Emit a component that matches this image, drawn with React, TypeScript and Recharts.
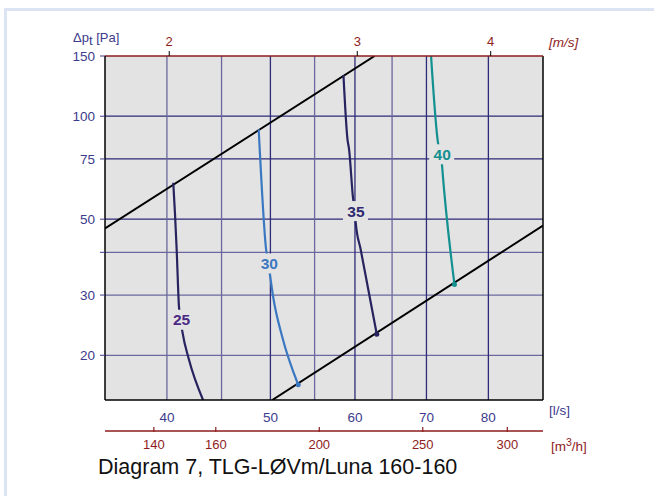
import React from "react";
import {
  LineChart,
  Line,
  XAxis,
  YAxis,
  CartesianGrid,
  ReferenceLine,
} from "recharts";

// ---- data (flow q in l/s, pressure p in Pa) ----
const FLOW_DOMAIN = [35, 90];
const PRESSURE_DOMAIN = [14.8, 150];
const FLOW_TICKS = [40, 50, 60, 70, 80];
const FLOW_GRID = [40, 45, 50, 55, 60, 65, 70, 80];
const FLOW_GRID_MAJOR = [50, 60, 70, 80];
const PRESSURE_TICKS = [20, 30, 40, 50, 75, 100, 150];
const PRESSURE_TICK_LABELS = ["20", "30", "", "50", "75", "100", "150"];
const PRESSURE_GRID = [20, 30, 40, 50, 75, 100];
const PRESSURE_GRID_MAJOR = [50, 75, 100];
const VELOCITY_TICKS = [2, 3, 4];
const VELOCITY_FACTOR = 20.1; // l/s per m/s
const M3H_TICKS = [140, 160, 200, 250, 300];
const M3H_FACTOR = 3.6;

const upperLimit = [
  { q: 35, p: 47 },
  { q: 62.6, p: 150 },
];
const lowerLimit = [
  { q: 50.2, p: 14.8 },
  { q: 90, p: 47.9 },
];
const curve25 = [
  { q: 40.55, p: 63.9 },
  { q: 40.7, p: 52 },
  { q: 40.85, p: 40.7 },
  { q: 41.05, p: 27.8 },
  { q: 41.2, p: 25.4, lbl: "25" },
  { q: 41.35, p: 23.5 },
  { q: 41.95, p: 19.4 },
  { q: 43.24, p: 14.8 },
];
const curve30 = [
  { q: 48.75, p: 91.6 },
  { q: 48.86, p: 80.1 },
  { q: 49.54, p: 40.7 },
  { q: 49.77, p: 37.1, lbl: "30" },
  { q: 50.0, p: 33.65 },
  { q: 50.29, p: 29.7 },
  { q: 51.28, p: 22.7 },
  { q: 53.09, p: 16.4 },
];
const curve35 = [
  { q: 58.53, p: 131.9 },
  { q: 59.04, p: 85.6 },
  { q: 59.24, p: 80.1 },
  { q: 59.76, p: 57.4 },
  { q: 60.0, p: 52.8, lbl: "35" },
  { q: 60.1, p: 48.8 },
  { q: 60.75, p: 40.7 },
  { q: 62.89, p: 23.05 },
];
const curve40 = [
  { q: 70.7, p: 150 },
  { q: 71.8, p: 82.8 },
  { q: 72.26, p: 77.4, lbl: "40" },
  { q: 72.4, p: 71.5 },
  { q: 74.36, p: 32.2 },
];

// secondary-axis helper series (invisible), derived from the flow domain
const m3hRange = FLOW_DOMAIN.map((q) => ({ q: q * M3H_FACTOR, p: PRESSURE_DOMAIN[1] }));
const velRange = FLOW_DOMAIN.map((q) => ({ q: q / VELOCITY_FACTOR, p: PRESSURE_DOMAIN[1] }));

const FONT = "'Liberation Sans', Arial, sans-serif";
const BLUE_TEXT = "#3d3b8c";
const RED = "#8e1d1d";
const PLOT_BG = "#e3e3e3";

const makeLabel = (data: any[], color: string) => (props: any) => {
  const { x, y, index } = props;
  const d = data[index];
  if (!d || !d.lbl) return null;
  return (
    <g key={`lbl-${index}`}>
      <rect x={x - 12} y={y - 10} width={25} height={20} fill={PLOT_BG} />
      <text
        x={x + 1}
        y={y}
        dy="0.36em"
        textAnchor="middle"
        fontFamily={FONT}
        fontSize={15.5}
        fontWeight="bold"
        fill={color}
      >
        {d.lbl}
      </text>
    </g>
  );
};

const makeEndDot = (data: any[], color: string) => (props: any) => {
  const { cx, cy, index } = props;
  if (index !== data.length - 1) return <g key={`d-${index}`} />;
  return <circle key={`d-${index}`} cx={cx} cy={cy} r={2.5} fill={color} />;
};

const M3hTick = (props: any) => {
  const { x, y, payload } = props;
  return (
    <g>
      <line x1={x} x2={x} y1={y - 13} y2={y - 8} stroke={RED} strokeWidth={1.2} />
      <text
        x={x}
        y={y}
        dy="0.71em"
        textAnchor="middle"
        fontFamily={FONT}
        fontSize={13}
        fill={RED}
      >
        {payload.value}
      </text>
    </g>
  );
};

const VelTick = (props: any) => {
  const { x, y, payload } = props;
  return (
    <g>
      <line x1={x} x2={x} y1={y + 10} y2={y + 5} stroke="#000" strokeWidth={1} />
      <text
        x={x}
        y={y}
        textAnchor="middle"
        fontFamily={FONT}
        fontSize={13}
        fill={RED}
      >
        {payload.value}
      </text>
    </g>
  );
};

export default function App() {
  return (
    <div style={{ position: "absolute", left: 0, top: 0, width: 654, height: 496, background: "#fff" }}>
      <div
        style={{
          position: "absolute",
          left: 4,
          top: 8,
          width: 650,
          height: 488,
          borderLeft: "3px solid #dce3f3",
          borderTop: "3px solid #dce3f3",
          boxSizing: "border-box",
        }}
      />
      <div style={{ position: "absolute", left: 0, top: 0 }}>
        <LineChart
          width={654}
          height={496}
          margin={{ top: 30, right: 111, bottom: 35, left: 45 }}
        >
          <CartesianGrid fill={PLOT_BG} horizontal={false} vertical={false} stroke="none" />
          <XAxis
            xAxisId="flow"
            dataKey="q"
            type="number"
            scale="log"
            domain={FLOW_DOMAIN}
            allowDataOverflow
            ticks={FLOW_TICKS}
            tickLine={false}
            tickSize={0}
            tickMargin={12}
            height={31}
            axisLine={{ stroke: "#000", strokeWidth: 1.5 }}
            tick={{ fill: BLUE_TEXT, fontSize: 13.5, fontFamily: FONT }}
            label={{
              content: (p: any) => (
                <text
                  x={p.viewBox.x + p.viewBox.width + 6}
                  y={p.viewBox.y + 10}
                  dy="0.36em"
                  fontFamily={FONT}
                  fontSize={13.5}
                  fill={BLUE_TEXT}
                >
                  [l/s]
                </text>
              ),
            }}
          />
          <XAxis
            xAxisId="m3h"
            dataKey="q"
            type="number"
            scale="log"
            domain={[FLOW_DOMAIN[0] * M3H_FACTOR, FLOW_DOMAIN[1] * M3H_FACTOR]}
            allowDataOverflow
            ticks={M3H_TICKS}
            interval={0}
            tickLine={false}
            tickSize={0}
            tickMargin={9}
            height={30}
            axisLine={{ stroke: RED, strokeWidth: 1.5 }}
            tick={<M3hTick />}
            label={{
              content: (p: any) => (
                <text
                  x={p.viewBox.x + p.viewBox.width + 8}
                  y={p.viewBox.y + 15}
                  dy="0.36em"
                  fontFamily={FONT}
                  fontSize={13.5}
                  fill={RED}
                >
                  [m
                  <tspan dy="-5" fontSize={10.5}>3</tspan>
                  <tspan dy="5">/h]</tspan>
                </text>
              ),
            }}
          />
          <XAxis
            xAxisId="vel"
            dataKey="q"
            orientation="top"
            type="number"
            scale="log"
            domain={[FLOW_DOMAIN[0] / VELOCITY_FACTOR, FLOW_DOMAIN[1] / VELOCITY_FACTOR]}
            allowDataOverflow
            ticks={VELOCITY_TICKS}
            interval={0}
            tickLine={false}
            tickSize={0}
            tickMargin={10}
            height={26}
            axisLine={{ stroke: RED, strokeWidth: 1.5 }}
            tick={<VelTick />}
            label={{
              content: (p: any) => (
                <text
                  x={p.viewBox.x + p.viewBox.width + 6}
                  y={p.viewBox.y + 12}
                  dy="0.36em"
                  fontFamily={FONT}
                  fontSize={13.5}
                  fontStyle="italic"
                  fill={RED}
                >
                  [m/s]
                </text>
              ),
            }}
          />
          <YAxis
            yAxisId="p"
            type="number"
            scale="log"
            domain={PRESSURE_DOMAIN}
            allowDataOverflow
            ticks={PRESSURE_TICKS}
            interval={0}
            tickFormatter={(v: number) => PRESSURE_TICK_LABELS[PRESSURE_TICKS.indexOf(v)] ?? ""}
            width={60}
            tickSize={5}
            tickMargin={5}
            tickLine={{ stroke: BLUE_TEXT }}
            axisLine={{ stroke: "#000", strokeWidth: 1.5 }}
            tick={{ fill: BLUE_TEXT, fontSize: 13.5, fontFamily: FONT }}
            label={{
              content: () => (
                <text x={73} y={42} fontFamily={FONT} fontSize={13} fill={BLUE_TEXT}>
                  Δp
                  <tspan dy="3" fontSize={13}>t</tspan>
                  <tspan dy="-3"> [Pa]</tspan>
                </text>
              ),
            }}
          />
          {PRESSURE_GRID.map((v) => (
            <ReferenceLine
              key={`h${v}`}
              xAxisId="flow"
              yAxisId="p"
              y={v}
              stroke={PRESSURE_GRID_MAJOR.includes(v) ? "#2e2b78" : "#6a689e"}
              strokeWidth={1.3}
            />
          ))}
          {FLOW_GRID.map((v) => (
            <ReferenceLine
              key={`v${v}`}
              xAxisId="flow"
              yAxisId="p"
              x={v}
              stroke={FLOW_GRID_MAJOR.includes(v) ? "#2e2b78" : "#6a689e"}
              strokeWidth={1.3}
            />
          ))}
          <ReferenceLine xAxisId="flow" yAxisId="p" x={FLOW_DOMAIN[1]} stroke="#000" strokeWidth={1.5} />
          <Line
            xAxisId="m3h"
            yAxisId="p"
            data={m3hRange}
            dataKey="p"
            stroke="none"
            dot={false}
            activeDot={false}
            isAnimationActive={false}
          />
          <Line
            xAxisId="vel"
            yAxisId="p"
            data={velRange}
            dataKey="p"
            stroke="none"
            dot={false}
            activeDot={false}
            isAnimationActive={false}
          />
          <Line
            xAxisId="flow"
            yAxisId="p"
            data={upperLimit}
            dataKey="p"
            stroke="#000"
            strokeWidth={2}
            dot={false}
            isAnimationActive={false}
          />
          <Line
            xAxisId="flow"
            yAxisId="p"
            data={lowerLimit}
            dataKey="p"
            stroke="#000"
            strokeWidth={2}
            dot={false}
            isAnimationActive={false}
          />
          <Line
            xAxisId="flow"
            yAxisId="p"
            data={curve25}
            dataKey="p"
            type="monotone"
            stroke="#26235f"
            strokeWidth={2.2}
            dot={false}
            label={makeLabel(curve25, "#4b2a85")}
            isAnimationActive={false}
          />
          <Line
            xAxisId="flow"
            yAxisId="p"
            data={curve30}
            dataKey="p"
            type="monotone"
            stroke="#3b78c2"
            strokeWidth={2.2}
            dot={makeEndDot(curve30, "#3b78c2")}
            label={makeLabel(curve30, "#3b78c2")}
            isAnimationActive={false}
          />
          <Line
            xAxisId="flow"
            yAxisId="p"
            data={curve35}
            dataKey="p"
            type="monotone"
            stroke="#26235f"
            strokeWidth={2.2}
            dot={makeEndDot(curve35, "#26235f")}
            label={makeLabel(curve35, "#2e2a70")}
            isAnimationActive={false}
          />
          <Line
            xAxisId="flow"
            yAxisId="p"
            data={curve40}
            dataKey="p"
            type="monotone"
            stroke="#139090"
            strokeWidth={2.2}
            dot={makeEndDot(curve40, "#139090")}
            label={makeLabel(curve40, "#139090")}
            isAnimationActive={false}
          />
          <text x={98} y={474} fontFamily={FONT} fontSize={21.5} fill="#111">
            Diagram 7, TLG-LØVm/Luna 160-160
          </text>
        </LineChart>
      </div>
    </div>
  );
}
